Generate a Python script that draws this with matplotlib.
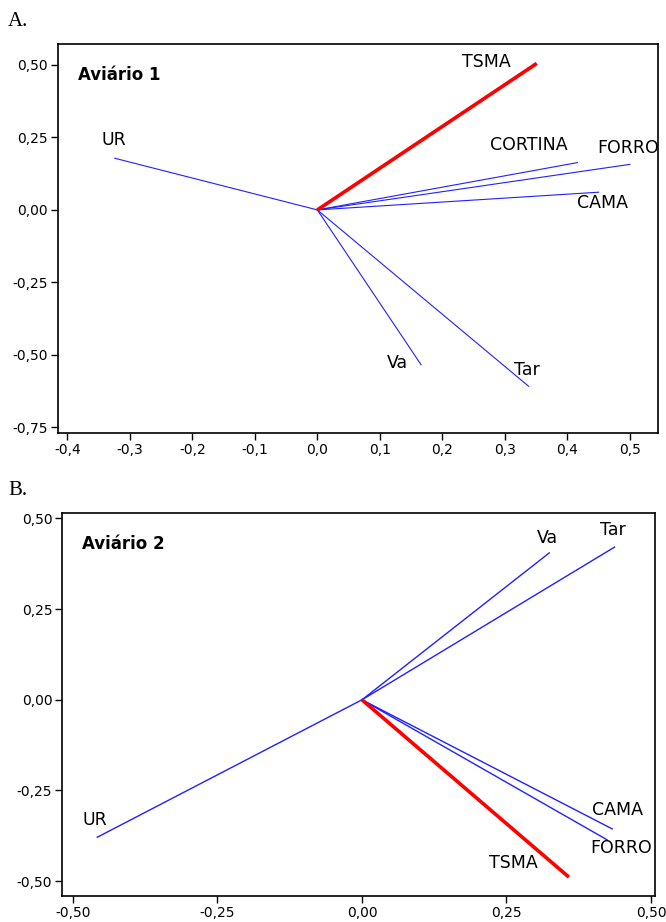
import matplotlib
matplotlib.use("Agg")
import matplotlib.pyplot as plt
from matplotlib.ticker import FuncFormatter, FixedLocator

# ---- Data ----
vars_a = ["TSMA", "UR", "CORTINA", "FORRO", "CAMA", "Va", "Tar"]
x_a = [0.351, -0.324, 0.416, 0.500, 0.450, 0.166, 0.338]
y_a = [0.505, 0.178, 0.163, 0.157, 0.061, -0.534, -0.608]

vars_b = ["Va", "Tar", "UR", "CAMA", "FORRO", "TSMA"]
x_b = [0.324, 0.437, -0.458, 0.433, 0.424, 0.358]
y_b = [0.405, 0.421, -0.379, -0.356, -0.386, -0.489]

xticks_a = [-0.4, -0.3, -0.2, -0.1, 0.0, 0.1, 0.2, 0.3, 0.4, 0.5]
yticks_a = [0.50, 0.25, 0.00, -0.25, -0.50, -0.75]
xticks_b = [-0.50, -0.25, 0.00, 0.25, 0.50]
yticks_b = [0.50, 0.25, 0.00, -0.25, -0.50]

# label offsets (points) relative to vector tip
off_a = {"TSMA": (-36, 1), "UR": (-1, 13), "CORTINA": (-35, 13), "FORRO": (-1, 12),
         "CAMA": (3, -8), "Va": (-17, 1), "Tar": (-1, 12)}
off_b = {"Va": (-1, 11), "Tar": (-1, 12.5), "UR": (-2, 12.5), "CAMA": (4, 13.5),
         "FORRO": (10, -6), "TSMA": (-40, 10.5)}

BLUE = "#2020ff"
RED = "#ff0000"


def comma_fmt(nd):
    def f(v, p):
        if abs(v) < 1e-9:
            v = 0.0
        return f"{v:.{nd}f}".replace(".", ",")
    return FuncFormatter(f)


fig = plt.figure(figsize=(6.66, 9.22), dpi=100)


def draw(ax, names, xs, ys, offs, title, xt, yt, xnd, xlim, ylim, lw_blue):
    for n, x, y in zip(names, xs, ys):
        if n == "TSMA":
            ax.plot([0, x], [0, y], color=RED, lw=2.6, solid_capstyle="butt", zorder=3)
        else:
            ax.plot([0, x], [0, y], color=BLUE, lw=lw_blue, zorder=2)
        dx, dy = offs[n]
        ax.annotate(n, (x, y), xytext=(dx, dy), textcoords="offset points",
                    ha="center", va="center", fontsize=12.5, color="black",
                    family="DejaVu Sans")
    ax.text(0.033, 0.92, title, transform=ax.transAxes, fontsize=12, fontweight="bold",
            ha="left", va="center", family="DejaVu Sans")
    ax.set_xlim(*xlim)
    ax.set_ylim(*ylim)
    ax.xaxis.set_major_locator(FixedLocator(xt))
    ax.yaxis.set_major_locator(FixedLocator(yt))
    ax.xaxis.set_major_formatter(comma_fmt(xnd))
    ax.yaxis.set_major_formatter(comma_fmt(2))
    ax.tick_params(direction="out", length=5, width=1, labelsize=10, pad=2,
                   top=False, right=False)
    for s in ax.spines.values():
        s.set_linewidth(1.2)


axA = fig.add_axes([0.087, 0.5304, 0.901, 0.4219])
draw(axA, vars_a, x_a, y_a, off_a, "Aviário 1", xticks_a, yticks_a, 1,
     (-0.415, 0.545), (-0.769, 0.572), 0.8)

axB = fig.add_axes([0.0931, 0.0282, 0.8904, 0.4154])
draw(axB, vars_b, x_b, y_b, off_b, "Aviário 2", xticks_b, yticks_b, 2,
     (-0.519, 0.507), (-0.541, 0.515), 1.0)

fig.text(8 / 666, 1 - 22 / 922, "A.", fontsize=15, family="Liberation Serif",
         ha="left", va="center")
fig.text(8 / 666, 1 - 490 / 922, "B.", fontsize=15, family="Liberation Serif",
         ha="left", va="center")

fig.savefig("out.png", dpi=100)
